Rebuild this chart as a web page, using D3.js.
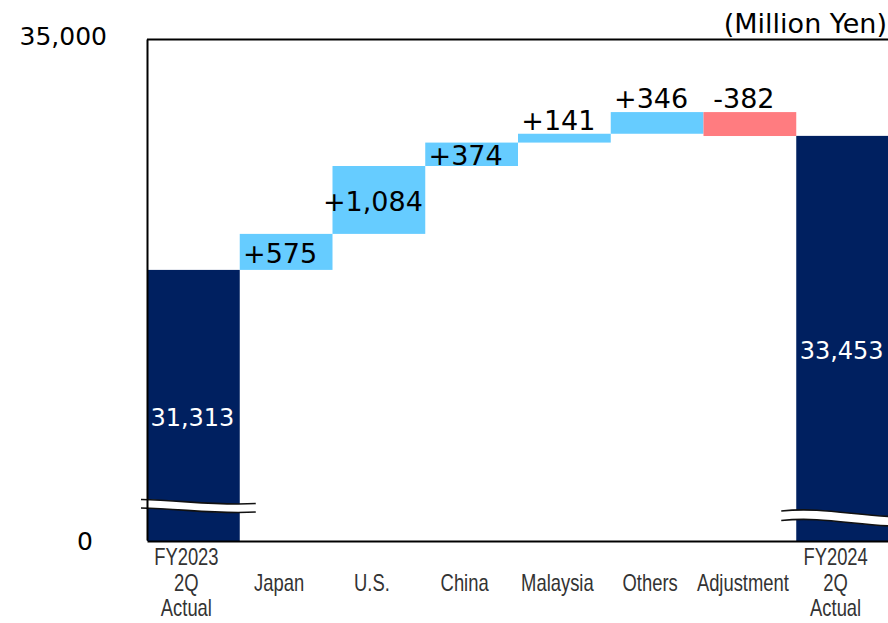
<!DOCTYPE html>
<html>
<head>
<meta charset="utf-8">
<script src="https://cdn.jsdelivr.net/npm/d3@7"></script>
<style>
  body { margin: 0; background: #fff; }
  svg { display: block; }
</style>
</head>
<body>
<svg id="chart" width="888" height="623"></svg>
<script>
// Operating results bridge, FY2023 2Q -> FY2024 2Q (million yen)
const categories = ["FY2023\n2Q\nActual", "Japan", "U.S.", "China", "Malaysia", "Others", "Adjustment", "FY2024\n2Q\nActual"];
const barKinds   = ["total", "delta", "delta", "delta", "delta", "delta", "delta", "total"];
const values     = [31313, 575, 1084, 374, 141, 346, -382, 33453];
const labelSpots = ["inside", "inside", "inside", "inside", "above", "above", "above", "inside"];
const yTickValues = [27000, 35000];   // axis is broken below 27,000
const yTickLabels = ["0", "35,000"];
const unitLabel = "(Million Yen)";

const colors = { total: "#002060", up: "#66CCFF", down: "#FF7C80" };
const valueFont = "'DejaVu Sans', Verdana, sans-serif";
const catFont = "'Liberation Sans', Arial, sans-serif";
const catSquash = 0.8;   // condensed look for the category captions

const W = 888, H = 623;
const plot = { left: 147, right: 889, top: 39, bottom: 540 };

const svg = d3.select("#chart");

const x = d3.scaleBand().domain(categories).range([plot.left, plot.right]).padding(0);
const y = d3.scaleLinear().domain([yTickValues[0], yTickValues[1]]).range([plot.bottom, plot.top]);
const bw = x.bandwidth();
const floorY = y(yTickValues[0]);

// waterfall segments
let running = 0;
const bars = categories.map((c, i) => {
  const v = values[i];
  let lo, hi, kind;
  if (barKinds[i] === "total") {
    running = v;
    lo = yTickValues[0]; hi = v; kind = "total";
  } else {
    const start = running;
    running += v;
    lo = Math.min(start, running); hi = Math.max(start, running);
    kind = v >= 0 ? "up" : "down";
  }
  const label = barKinds[i] === "total"
    ? d3.format(",")(v)
    : (v >= 0 ? "+" : "-") + d3.format(",")(Math.abs(v));
  return { c, i, v, lo, hi, kind, label, spot: labelSpots[i] };
});

// bars
svg.append("g").selectAll("rect").data(bars).join("rect")
  .attr("x", d => x(d.c))
  .attr("width", bw)
  .attr("y", d => y(d.hi))
  .attr("height", d => y(d.lo) - y(d.hi) + (d.kind === "total" ? 1 : 0))
  .attr("fill", d => colors[d.kind]);

// axis-break marks across the total bars
function breakMark(x0, x1, yl, c1, c2, yr, gap) {
  const w = x1 - x0;
  const top = `M${x0},${yl} C${x0 + 0.35 * w},${c1} ${x0 + 0.65 * w},${c2} ${x1},${yr}`;
  const bot = `M${x0},${yl + gap} C${x0 + 0.35 * w},${c1 + gap} ${x0 + 0.65 * w},${c2 + gap} ${x1},${yr + gap}`;
  const fillPath = top + ` L${x1},${yr + gap} C${x0 + 0.65 * w},${c2 + gap} ${x0 + 0.35 * w},${c1 + gap} ${x0},${yl + gap} Z`;
  const g = svg.append("g");
  g.append("path").attr("d", fillPath).attr("fill", "#fff");
  g.append("path").attr("d", top).attr("fill", "none").attr("stroke", "#111").attr("stroke-width", 1.6);
  g.append("path").attr("d", bot).attr("fill", "none").attr("stroke", "#111").attr("stroke-width", 1.6);
}
{
  const x0 = x(categories[0]);
  breakMark(x0 - 6, x0 + bw + 16, floorY - 40.5, floorY - 40, floorY - 34, floorY - 36.5, 8.5);
  const x7 = x(categories[7]);
  breakMark(x7 - 15, x7 + bw + 2, floorY - 29, floorY - 33, floorY - 25, floorY - 23.5, 9.5);
}

// plot frame: top border
svg.append("line")
  .attr("x1", plot.left).attr("x2", W)
  .attr("y1", plot.top + 0.5).attr("y2", plot.top + 0.5)
  .attr("stroke", "#000").attr("stroke-width", 1.8);

// y axis
const yAxis = svg.append("g")
  .attr("transform", `translate(${plot.left},0)`)
  .call(d3.axisLeft(y).tickValues(yTickValues).tickFormat((d, i) => yTickLabels[i]).tickSize(0).tickPadding(40));
yAxis.select(".domain").attr("stroke", "#000").attr("stroke-width", 2);
yAxis.selectAll("text")
  .attr("font-family", valueFont).attr("font-size", 25).attr("fill", "#000")
  .attr("dx", (d, i) => i === 0 ? -14 : 0)
  .attr("dy", (d, i) => i === 0 ? "0.36em" : "0.2em");

// x axis
const xAxis = svg.append("g")
  .attr("transform", `translate(0,${plot.bottom + 1})`)
  .call(d3.axisBottom(x).tickSize(0).tickFormat(""));
xAxis.select(".domain").attr("stroke", "#000").attr("stroke-width", 2);

// category labels
const catG = svg.append("g")
  .attr("font-family", catFont).attr("font-size", 23).attr("fill", "#333")
  .attr("text-anchor", "middle");
categories.forEach((c, i) => {
  const lines = c.split("\n");
  const cx = x(c) + bw / 2 - 7;
  const lh = 25.5;
  const mid = 591;
  const t = catG.append("text")
    .attr("transform", `translate(${cx},0) scale(${catSquash},1)`);
  lines.forEach((ln, k) => {
    t.append("tspan").attr("x", 0)
      .attr("y", mid + (k - (lines.length - 1) / 2) * lh)
      .text(ln);
  });
});

// value labels
const lblG = svg.append("g").attr("font-family", valueFont).attr("text-anchor", "middle");
bars.forEach(d => {
  const cx = x(d.c) + bw / 2;
  if (d.kind === "total") {
    const yc = (y(d.hi) + floorY) / 2 + 21;
    lblG.append("text").attr("x", cx - 1).attr("y", yc)
      .attr("font-size", 24).attr("fill", "#fff").text(d.label);
  } else if (d.spot === "inside") {
    const yc = (y(d.hi) + y(d.lo)) / 2 + 11;
    lblG.append("text").attr("x", cx - 6).attr("y", yc)
      .attr("font-size", 27).attr("fill", "#000").text(d.label);
  } else {
    lblG.append("text").attr("x", cx - 6).attr("y", y(d.hi) - 4)
      .attr("font-size", 27).attr("fill", "#000").text(d.label);
  }
});

// unit caption
svg.append("text")
  .attr("x", 887).attr("y", 33)
  .attr("text-anchor", "end")
  .attr("font-family", valueFont).attr("font-size", 27).attr("fill", "#000")
  .text(unitLabel);
</script>
</body>
</html>
